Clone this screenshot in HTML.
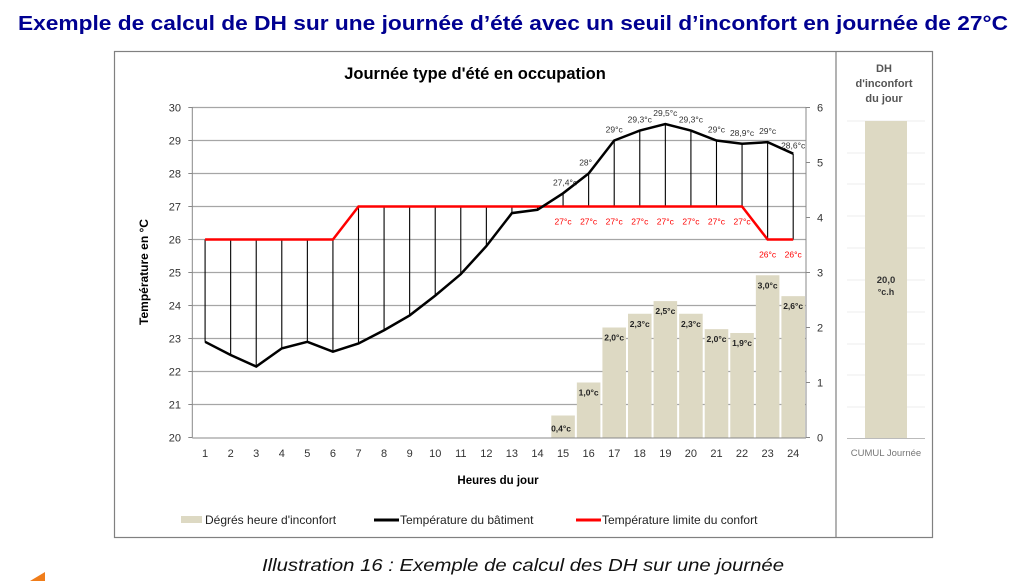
<!DOCTYPE html>
<html><head><meta charset="utf-8">
<style>
html,body{margin:0;padding:0;background:#fff;width:1030px;height:581px;overflow:hidden}
svg{display:block}
text{font-family:"Liberation Sans",sans-serif}
</style></head>
<body>
<svg id="s" width="1030" height="581" xmlns="http://www.w3.org/2000/svg">
<text x="18" y="30" font-size="20" font-weight="bold" fill="#000091" textLength="990" lengthAdjust="spacingAndGlyphs">Exemple de calcul de DH sur une journée d’été avec un seuil d’inconfort en journée de 27°C</text>
<rect x="114.5" y="51.5" width="818" height="486" fill="#fff" stroke="#808080" stroke-width="1.2"/>
<line x1="836" y1="51" x2="836" y2="538" stroke="#808080" stroke-width="1.2"/>
<text x="475" y="79" font-size="16.5" font-weight="bold" text-anchor="middle" fill="#000">Journée type d'été en occupation</text>
<text x="148" y="272" font-size="12" font-weight="bold" text-anchor="middle" transform="rotate(-90 148 272)">Température en °C</text>
<text x="498" y="484" font-size="11.5" font-weight="bold" text-anchor="middle">Heures du jour</text>
<g id="g"></g>
<!-- legend -->
<rect x="181" y="516" width="21" height="7" fill="#ddd9c3"/>
<text x="205" y="524" font-size="12" fill="#222">Dégrés heure d'inconfort</text>
<line x1="374" y1="520" x2="399" y2="520" stroke="#000" stroke-width="3"/>
<text x="400" y="524" font-size="12" fill="#222">Température du bâtiment</text>
<line x1="576" y1="520" x2="601" y2="520" stroke="#f00" stroke-width="3"/>
<text x="602" y="524" font-size="12" fill="#222">Température limite du confort</text>
<!-- right panel -->
<text x="884" y="72" font-size="11" font-weight="bold" fill="#555" text-anchor="middle">DH</text>
<text x="884" y="87" font-size="11" font-weight="bold" fill="#555" text-anchor="middle">d'inconfort</text>
<text x="884" y="102" font-size="11" font-weight="bold" fill="#555" text-anchor="middle">du jour</text>
<g stroke="#eeeeee" stroke-width="1">
<line x1="847" y1="121" x2="925" y2="121"/><line x1="847" y1="153" x2="925" y2="153"/><line x1="847" y1="184" x2="925" y2="184"/><line x1="847" y1="216" x2="925" y2="216"/><line x1="847" y1="248" x2="925" y2="248"/><line x1="847" y1="280" x2="925" y2="280"/><line x1="847" y1="312" x2="925" y2="312"/><line x1="847" y1="344" x2="925" y2="344"/><line x1="847" y1="375" x2="925" y2="375"/><line x1="847" y1="407" x2="925" y2="407"/>
</g>
<rect x="865" y="121" width="42" height="317" fill="#ddd9c3"/>
<line x1="847" y1="438.5" x2="925" y2="438.5" stroke="#bbb" stroke-width="1"/>
<text x="886" y="283" font-size="9.5" font-weight="bold" fill="#333" text-anchor="middle">20,0</text>
<text x="886" y="295" font-size="9" font-weight="bold" fill="#333" text-anchor="middle">°c.h</text>
<text x="886" y="456" font-size="9.5" fill="#777" text-anchor="middle">CUMUL Journée</text>
<!-- caption -->
<text x="262" y="571" font-size="17.5" font-style="italic" fill="#111" textLength="522" lengthAdjust="spacingAndGlyphs">Illustration 16 : Exemple de calcul des DH sur une journée</text>
<polygon points="30,581 45,572 45,581" fill="#f07d1a"/>
</svg>
<script>
var g=document.getElementById('g'),h='';
var X0=192.3,W=25.57,Y0=437.5,DY=33,RY=55;
function x(i){return X0+W*(i-0.5);}
function y(t){return Y0-(t-20)*DY;}
var T=[22.9,22.5,22.15,22.7,22.9,22.6,22.85,23.25,23.7,24.3,24.95,25.8,26.8,26.9,27.4,28,29,29.3,29.5,29.3,29,28.9,28.95,28.6];
var L=[26,26,26,26,26,26,27,27,27,27,27,27,27,27,27,27,27,27,27,27,27,27,26,26];
var B={15:0.4,16:1.0,17:2.0,18:2.25,19:2.48,20:2.25,21:1.97,22:1.9,23:2.95,24:2.57};
var BL={15:'0,4°c',16:'1,0°c',17:'2,0°c',18:'2,3°c',19:'2,5°c',20:'2,3°c',21:'2,0°c',22:'1,9°c',23:'3,0°c',24:'2,6°c'};
for(var t=21;t<=30;t++)h+='<line x1="'+X0+'" y1="'+y(t)+'" x2="806" y2="'+y(t)+'" stroke="#a6a6a6" stroke-width="1.2"/>';
for(var i=15;i<=24;i++){var bh=B[i]*RY;h+='<rect x="'+(X0+W*(i-1)+1)+'" y="'+(Y0-bh)+'" width="'+(W-2)+'" height="'+bh+'" fill="#ddd9c3"/>';}
h+='<line x1="'+X0+'" y1="'+(Y0+.5)+'" x2="806" y2="'+(Y0+.5)+'" stroke="#888"/>';
h+='<line x1="'+X0+'" y1="107" x2="'+X0+'" y2="'+Y0+'" stroke="#888"/>';
h+='<line x1="806" y1="107" x2="806" y2="'+Y0+'" stroke="#888"/>';
for(var t=20;t<=30;t++){h+='<line x1="'+(X0-4)+'" y1="'+y(t)+'" x2="'+X0+'" y2="'+y(t)+'" stroke="#888"/>';h+='<text x="181" y="'+(y(t)+4)+'" font-size="11" fill="#333" text-anchor="end">'+t+'</text>';}
for(var r=0;r<=6;r++){var yy=Y0-r*RY;h+='<line x1="806" y1="'+yy+'" x2="810" y2="'+yy+'" stroke="#888"/>';h+='<text x="817" y="'+(yy+4)+'" font-size="11" fill="#333">'+r+'</text>';}
for(var i=1;i<=24;i++){h+='<text x="'+x(i)+'" y="457" font-size="11" fill="#333" text-anchor="middle">'+i+'</text>';
 h+='<line x1="'+x(i)+'" y1="'+y(L[i-1])+'" x2="'+x(i)+'" y2="'+y(T[i-1])+'" stroke="#000" stroke-width="1.1"/>';}
var p='',q='';for(var i=1;i<=24;i++){p+=x(i)+','+y(T[i-1])+' ';q+=x(i)+','+y(L[i-1])+' ';}
h+='<polyline points="'+q+'" fill="none" stroke="#f00" stroke-width="2.5"/>';
h+='<polyline points="'+p+'" fill="none" stroke="#000" stroke-width="2.5"/>';
for(var i=15;i<=24;i++){var bh=B[i]*RY;h+='<text x="'+(x(i)-(i==15?2:0))+'" y="'+(Y0-bh+(i==15?16:13))+'" font-size="8.5" font-weight="bold" fill="#222" text-anchor="middle">'+BL[i]+'</text>';}
var TL={15:'27,4°c',16:'28°',17:'29°c',18:'29,3°c',19:'29,5°c',20:'29,3°c',21:'29°c',22:'28,9°c',23:'29°c',24:'28,6°c'};
for(var i=15;i<=24;i++){h+='<text x="'+(x(i)-(i==16?3:(i==15?-2:0)))+'" y="'+(y(T[i-1])-(i==24?5:8))+'" font-size="8.5" fill="#333" text-anchor="middle">'+TL[i]+'</text>';}
for(var i=15;i<=24;i++){var lv=L[i-1];h+='<text x="'+x(i)+'" y="'+(y(lv)+18)+'" font-size="8.5" fill="#f00" text-anchor="middle">'+lv+'°c</text>';}
g.innerHTML=h;
</script>
</body></html>
